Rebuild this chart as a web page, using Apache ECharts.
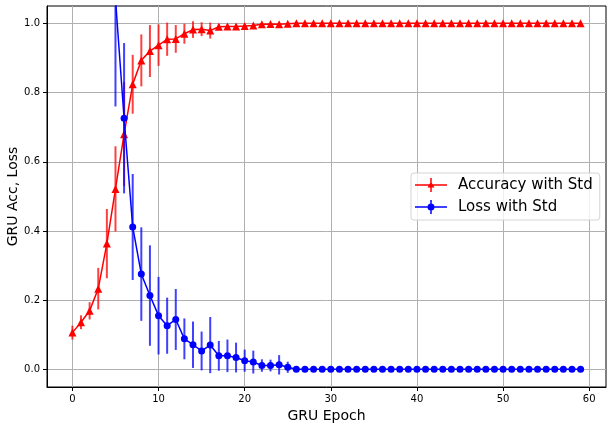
<!DOCTYPE html>
<html>
<head>
<meta charset="utf-8">
<script src="https://cdn.jsdelivr.net/npm/echarts@6/dist/echarts.min.js"></script>
<style>
  html, body { margin: 0; padding: 0; background: #fff; }
  #chart { width: 613px; height: 429px; }
</style>
</head>
<body>
<div id="chart"></div>
<script>
const epochs = [0, 1, 2, 3, 4, 5, 6, 7, 8, 9, 10, 11, 12, 13, 14, 15, 16, 17, 18, 19,
  20, 21, 22, 23, 24, 25, 26, 27, 28, 29, 30, 31, 32, 33, 34, 35, 36, 37, 38, 39,
  40, 41, 42, 43, 44, 45, 46, 47, 48, 49, 50, 51, 52, 53, 54, 55, 56, 57, 58, 59];

const accMean = [0.107, 0.137, 0.170, 0.234, 0.364, 0.522, 0.680, 0.824, 0.893, 0.920,
  0.937, 0.954, 0.955, 0.970, 0.982, 0.983, 0.979, 0.990, 0.991, 0.991,
  0.992, 0.994, 0.997, 0.998, 0.997, 0.999, 1.0, 1.0, 1.0, 1.0,
  1.0, 1.0, 1.0, 1.0, 1.0, 1.0, 1.0, 1.0, 1.0, 1.0,
  1.0, 1.0, 1.0, 1.0, 1.0, 1.0, 1.0, 1.0, 1.0, 1.0,
  1.0, 1.0, 1.0, 1.0, 1.0, 1.0, 1.0, 1.0, 1.0, 1.0];
const accStd = [0.02, 0.02, 0.025, 0.06, 0.10, 0.123, 0.15, 0.085, 0.075, 0.075,
  0.06, 0.048, 0.04, 0.029, 0.024, 0.02, 0.023, 0.008, 0.006, 0.006,
  0.005, 0.004, 0.004, 0.003, 0.004, 0.002, 0.001, 0.001, 0, 0,
  0, 0, 0, 0, 0, 0, 0, 0, 0, 0,
  0, 0, 0, 0, 0, 0, 0, 0, 0, 0,
  0, 0, 0, 0, 0, 0, 0, 0, 0, 0];

const lossMean = [2.30, 2.08, 1.85, 1.62, 1.45, 1.07, 0.726, 0.412, 0.276, 0.214,
  0.156, 0.127, 0.145, 0.089, 0.072, 0.054, 0.071, 0.040, 0.040, 0.035,
  0.026, 0.022, 0.012, 0.012, 0.014, 0.007, 0.001, 0.001, 0.001, 0.001,
  0.001, 0.001, 0.001, 0.001, 0.001, 0.001, 0.001, 0.001, 0.001, 0.001,
  0.001, 0.001, 0.001, 0.001, 0.001, 0.001, 0.001, 0.001, 0.001, 0.001,
  0.001, 0.001, 0.001, 0.001, 0.001, 0.001, 0.001, 0.001, 0.001, 0.001];
const lossStd = [0.05, 0.1, 0.15, 0.2, 0.3, 0.31, 0.217, 0.153, 0.135, 0.145,
  0.112, 0.081, 0.088, 0.059, 0.067, 0.056, 0.081, 0.043, 0.047, 0.043,
  0.032, 0.033, 0.018, 0.017, 0.028, 0.016, 0.001, 0.001, 0.001, 0.001,
  0.001, 0.001, 0.001, 0.001, 0.001, 0.001, 0.001, 0.001, 0.001, 0.001,
  0.001, 0.001, 0.001, 0.001, 0.001, 0.001, 0.001, 0.001, 0.001, 0.001,
  0.001, 0.001, 0.001, 0.001, 0.001, 0.001, 0.001, 0.001, 0.001, 0.001];

const xTicks = [0, 10, 20, 30, 40, 50, 60];
const yTicks = [0, 0.2, 0.4, 0.6, 0.8, 1.0];

const FONT = 'DejaVu Sans';

// legend icons: line + error bar + marker
const accIcon = 'path://M0 6.25H32V7.75H0Z M15.25 0H16.75V14H15.25Z M16 3.5L19.5 9.5L12.5 9.5Z';
const lossIcon = 'path://M0 6.25H32V7.75H0Z M15.25 0H16.75V14H15.25Z M16 3.5A3.5 3.5 0 1 1 16 10.5A3.5 3.5 0 1 1 16 3.5Z';

function errorBar(color) {
  return function (params, api) {
    const x = api.value(0), m = api.value(1), s = api.value(2);
    const lo = api.coord([x, m - s]);
    const hi = api.coord([x, m + s]);
    return {
      type: 'line',
      shape: { x1: lo[0], y1: lo[1], x2: hi[0], y2: hi[1] },
      style: { stroke: color, lineWidth: 2 }
    };
  };
}

const chart = echarts.init(document.getElementById('chart'));
chart.setOption({
  animation: false,
  backgroundColor: '#fff',
  grid: {
    left: 47, right: 7, top: 6, bottom: 42,
    outerBoundsMode: 'none',
    show: true, borderColor: '#000', borderWidth: 1, backgroundColor: 'transparent'
  },
  legend: {
    orient: 'vertical',
    left: 411, top: 173,
    padding: [3, 7, 4, 4],
    itemWidth: 32, itemHeight: 14, itemGap: 4,
    borderColor: '#d4d4d4', borderWidth: 1, borderRadius: 3,
    backgroundColor: 'rgba(255,255,255,0.8)',
    textStyle: { fontSize: 15, fontFamily: FONT, color: '#000', lineHeight: 18, padding: [0, 0, 0, 6] },
    data: [
      { name: 'Accuracy with Std', icon: accIcon },
      { name: 'Loss with Std', icon: lossIcon }
    ]
  },
  xAxis: {
    type: 'value',
    min: -2.95, max: 61.95,
    name: 'GRU Epoch', nameLocation: 'middle', nameGap: 20,
    nameTextStyle: { fontSize: 14, fontFamily: FONT, color: '#000' },
    axisLine: { show: true, onZero: false, lineStyle: { color: '#000' } },
    axisTick: { show: true, length: 4, customValues: xTicks, lineStyle: { color: '#000' } },
    axisLabel: { customValues: xTicks, fontSize: 10, fontFamily: FONT, color: '#000', margin: 7 },
    splitLine: { show: true, lineStyle: { color: '#b0b0b0' } }
  },
  yAxis: {
    type: 'value',
    min: -0.05, max: 1.05,
    name: 'GRU Acc, Loss', nameLocation: 'middle', nameGap: 27,
    nameMoveOverlap: false,
    nameTextStyle: { fontSize: 14, fontFamily: FONT, color: '#000' },
    axisLine: { show: true, onZero: false, lineStyle: { color: '#000' } },
    axisTick: { show: true, length: 4, customValues: yTicks, lineStyle: { color: '#000' } },
    axisLabel: {
      customValues: yTicks, fontSize: 10, fontFamily: FONT, color: '#000', margin: 7,
      formatter: v => v.toFixed(1)
    },
    splitLine: { show: true, lineStyle: { color: '#b0b0b0' } }
  },
  series: [
    {
      type: 'custom',
      name: 'accErr',
      z: 1,
      clip: true,
      renderItem: errorBar('rgba(255,0,0,0.75)'),
      data: epochs.map((e, i) => [e, accMean[i], accStd[i]])
    },
    {
      type: 'line',
      name: 'Accuracy with Std',
      z: 2,
      clip: true,
      symbol: 'triangle', symbolSize: 8, showSymbol: true,
      lineStyle: { color: '#ff0000', width: 1.5 },
      itemStyle: { color: '#ff0000' },
      data: epochs.map((e, i) => [e, accMean[i]])
    },
    {
      type: 'custom',
      name: 'lossErr',
      z: 3,
      clip: true,
      renderItem: errorBar('rgba(0,0,255,0.75)'),
      data: epochs.map((e, i) => [e, lossMean[i], lossStd[i]])
    },
    {
      type: 'line',
      name: 'Loss with Std',
      z: 4,
      clip: true,
      symbol: 'circle', symbolSize: 7, showSymbol: true,
      lineStyle: { color: '#0000ff', width: 1.5 },
      itemStyle: { color: '#0000ff' },
      data: epochs.map((e, i) => [e, lossMean[i]])
    }
  ]
});
</script>
</body>
</html>
